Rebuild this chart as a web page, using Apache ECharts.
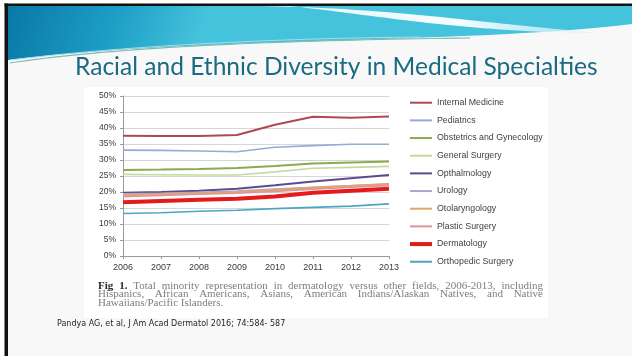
<!DOCTYPE html>
<html>
<head>
<meta charset="utf-8">
<script src="https://cdn.jsdelivr.net/npm/echarts@6/dist/echarts.min.js"></script>
<style>
  html, body { margin: 0; padding: 0; background: #ffffff; }
  #chart { width: 632px; height: 356px; }
</style>
</head>
<body>
<div id="chart"></div>
<script>
// Minority share (%) of residents by specialty, 2006-2013
const years = ['2006', '2007', '2008', '2009', '2010', '2011', '2012', '2013'];

const internalMedicine = [37.6, 37.5, 37.5, 37.8, 41.0, 43.5, 43.2, 43.6];
const pediatrics       = [33.1, 33.0, 32.8, 32.6, 34.0, 34.5, 34.9, 34.9];
const obstetrics       = [26.9, 27.0, 27.2, 27.5, 28.1, 28.9, 29.2, 29.5];
const generalSurgery   = [25.5, 25.4, 25.3, 25.3, 26.3, 27.4, 27.7, 28.0];
const ophthalmology    = [19.8, 20.0, 20.4, 21.0, 22.1, 23.3, 24.3, 25.3];
const urology          = [19.4, 19.6, 19.9, 20.3, 20.9, 21.5, 22.0, 22.6];
const otolaryngology   = [19.0, 19.3, 19.6, 19.9, 20.6, 21.3, 21.9, 22.4];
const plasticSurgery   = [18.5, 18.9, 19.3, 19.6, 20.2, 20.9, 21.5, 22.0];
const dermatology      = [16.8, 17.2, 17.6, 17.9, 18.6, 19.8, 20.4, 21.0];
const orthopedic       = [13.3, 13.5, 14.0, 14.3, 14.8, 15.2, 15.6, 16.3];

const seriesNames = [
  'Internal Medicine', 'Pediatrics', 'Obstetrics and Gynecology', 'General Surgery',
  'Opthalmology', 'Urology', 'Otolaryngology', 'Plastic Surgery', 'Dermatology',
  'Orthopedic Surgery'
];
const seriesValues = [
  internalMedicine, pediatrics, obstetrics, generalSurgery, ophthalmology,
  urology, otolaryngology, plasticSurgery, dermatology, orthopedic
];
const seriesColors = [
  '#ad4a50', '#93acd8', '#8aab4f', '#c6d99f', '#5c4b8f',
  '#aca6cf', '#e7a466', '#dc959a', '#e51a1a', '#4aa6c2'
];
const seriesWidths = [2, 1.6, 2, 1.6, 2, 1.6, 2, 1.6, 4, 1.6];

const yTicks = { min: 0, max: 50, step: 5 };

const titleText = 'Racial and Ethnic Diversity in Medical Specialties';
const captionLines = [
  [['Fig 1.', true], ['Total minority representation in dermatology versus other fields, 2006-2013, including', false]],
  [['Hispanics, African Americans, Asians, American Indians/Alaskan Natives, and Native', false]],
  [['Hawaiians/Pacific Islanders.', false]]
];
const citationText = 'Pandya AG, et al, J Am Acad Dermatol 2016; 74:584- 587';

// --- helpers -------------------------------------------------------------
const measureCtx = document.createElement('canvas').getContext('2d');
function textWidth(str, font) {
  measureCtx.font = font;
  return measureCtx.measureText(str).width;
}

function cubic(p0, p1, p2, p3, n) {
  const pts = [];
  for (let i = 0; i <= n; i++) {
    const t = i / n, u = 1 - t;
    pts.push([
      u * u * u * p0[0] + 3 * u * u * t * p1[0] + 3 * u * t * t * p2[0] + t * t * t * p3[0],
      u * u * u * p0[1] + 3 * u * u * t * p1[1] + 3 * u * t * t * p2[1] + t * t * t * p3[1]
    ]);
  }
  return pts;
}

// thin bar used as a legend swatch, thickness in px
function legendBar(h) {
  return 'path://M0,0L22,0L22,' + h + 'L0,' + h + 'Z';
}

// --- slide header --------------------------------------------------------
const headerBottom = cubic([632, 24], [470, 44], [200, 36], [8, 60], 40);
const headerShape = [[8, 6], [632, 6]].concat(headerBottom);

const swooshTop = cubic([250, 6], [385, 7], [470, 22], [600, 33], 40);
const swooshBottom = cubic([600, 33], [470, 33], [375, 15], [290, 6], 40);
const swooshShape = swooshTop.concat(swooshBottom);

const accentLine = cubic([10, 63], [120, 46], [300, 40], [470, 38], 40);
const accentLine2 = cubic([10, 60], [140, 44], [300, 38], [420, 37], 40);

// --- caption (justified serif text) ----------------------------------------
const capFontSize = 11;
const capLeft = 98, capRight = 543;
const capTop = [285.7, 294.6, 303.4];
const captionEls = [];
captionLines.forEach((line, li) => {
  const words = [];
  line.forEach(([str, bold]) => {
    str.split(' ').forEach(w => words.push({ w, bold }));
  });
  const fonts = words.map(o => (o.bold ? 'bold ' : '') + capFontSize + 'px "Liberation Serif"');
  const widths = words.map((o, i) => textWidth(o.w, fonts[i]));
  const total = widths.reduce((a, b) => a + b, 0);
  const justify = li < captionLines.length - 1;
  const gap = justify ? (capRight - capLeft - total) / (words.length - 1) : capFontSize * 0.25;
  let x = capLeft;
  words.forEach((o, i) => {
    captionEls.push({
      type: 'text', x: x, y: capTop[li], silent: true,
      style: {
        text: o.w, font: fonts[i], fill: o.bold ? '#2b2b2b' : '#7d7d7d',
        textVerticalAlign: 'middle'
      }
    });
    x += widths[i] + gap;
  });
});

// title sized to span its line
const titleFontBase = 24;
const titleW = textWidth(titleText, titleFontBase + 'px Lato');
const titleFont = Math.min(26, titleFontBase * 523 / titleW);

const chart = echarts.init(document.getElementById('chart'), null, { renderer: 'canvas' });

chart.setOption({
  backgroundColor: '#f7f7f7',
  animation: false,
  graphic: [
    // outer slide frame
    { type: 'rect', shape: { x: 0, y: 0, width: 632, height: 356 }, style: { fill: '#f8f8f8' }, z: -10, silent: true },
    { type: 'rect', shape: { x: 0, y: 0, width: 632, height: 3.5 }, style: { fill: '#ffffff' }, z: -9, silent: true },
    { type: 'rect', shape: { x: 0, y: 0, width: 4.5, height: 356 }, style: { fill: '#ffffff' }, z: -9, silent: true },
    { type: 'rect', shape: { x: 4.5, y: 3.5, width: 628, height: 2.8 }, style: { fill: '#111111' }, z: -8, silent: true },
    { type: 'rect', shape: { x: 4.5, y: 3.5, width: 3.5, height: 353 }, style: { fill: '#111111' }, z: -8, silent: true },
    // header wave
    {
      type: 'polygon', shape: { points: headerShape }, z: -7, silent: true,
      style: {
        fill: {
          type: 'linear', x: 0, y: 0, x2: 0.3, y2: 1,
          colorStops: [
            { offset: 0, color: '#0a78a6' },
            { offset: 0.55, color: '#1d9fc6' },
            { offset: 1, color: '#46c3dc' }
          ]
        }
      }
    },
    {
      type: 'polygon', shape: { points: swooshShape }, z: -6, silent: true,
      style: {
        fill: {
          type: 'linear', x: 0, y: 0, x2: 1, y2: 0,
          colorStops: [
            { offset: 0, color: 'rgba(255,255,255,0.85)' },
            { offset: 0.6, color: 'rgba(255,255,255,0.95)' },
            { offset: 1, color: 'rgba(210,240,250,0.6)' }
          ]
        }
      }
    },
    { type: 'polyline', shape: { points: accentLine }, z: -6, silent: true, style: { stroke: '#79bdb5', lineWidth: 1.2, fill: null } },
    { type: 'polyline', shape: { points: accentLine2 }, z: -6, silent: true, style: { stroke: '#a9dbe6', lineWidth: 1, fill: null } },
    // title
    {
      type: 'text', x: 75, y: 67, silent: true,
      style: {
        text: titleText, font: titleFont + 'px Lato', fill: '#1a6a82',
        textVerticalAlign: 'middle'
      }
    },
    // white figure panel
    { type: 'rect', shape: { x: 84, y: 87, width: 464, height: 231 }, style: { fill: '#ffffff' }, z: -5, silent: true },
    // citation
    {
      type: 'text', x: 57, y: 324, silent: true,
      style: { text: citationText, font: '8px "DejaVu Sans"', fill: '#262626', textVerticalAlign: 'middle' }
    }
  ].concat(captionEls),
  grid: { left: 123, right: 243, top: 96, bottom: 100, containLabel: false },
  xAxis: {
    type: 'category',
    data: years,
    boundaryGap: false,
    axisLine: { lineStyle: { color: '#9a9a9a', width: 1 } },
    axisTick: { show: true, length: 3, lineStyle: { color: '#9a9a9a' } },
    axisLabel: { color: '#3a3a3a', fontSize: 9, fontFamily: 'Liberation Sans', margin: 7 },
    splitLine: { show: false }
  },
  yAxis: {
    type: 'value',
    min: yTicks.min, max: yTicks.max, interval: yTicks.step,
    axisLine: { show: true, lineStyle: { color: '#9a9a9a', width: 1 } },
    axisTick: { show: true, length: 3, lineStyle: { color: '#9a9a9a' } },
    axisLabel: { color: '#3a3a3a', fontSize: 8.5, fontFamily: 'Liberation Sans', margin: 7, formatter: '{value}%' },
    splitLine: { lineStyle: { color: '#d6d6d6', width: 1 } }
  },
  legend: {
    orient: 'vertical',
    left: 410, top: 97.7,
    padding: 0,
    itemWidth: 22, itemHeight: 10, itemGap: 7.67,
    textStyle: { color: '#404040', fontSize: 8.8, fontFamily: 'Liberation Sans', lineHeight: 10 },
    data: seriesNames.map((n, i) => ({
      name: n,
      icon: legendBar(seriesWidths[i] >= 3 ? 4 : 2),
      itemStyle: { color: seriesColors[i] }
    })),
    selectedMode: false
  },
  series: seriesNames.map((n, i) => ({
    name: n,
    type: 'line',
    data: seriesValues[i],
    symbol: 'none',
    smooth: false,
    z: i === 8 ? 5 : 2,
    lineStyle: { color: seriesColors[i], width: seriesWidths[i] },
    itemStyle: { color: seriesColors[i] }
  }))
});
</script>
</body>
</html>
